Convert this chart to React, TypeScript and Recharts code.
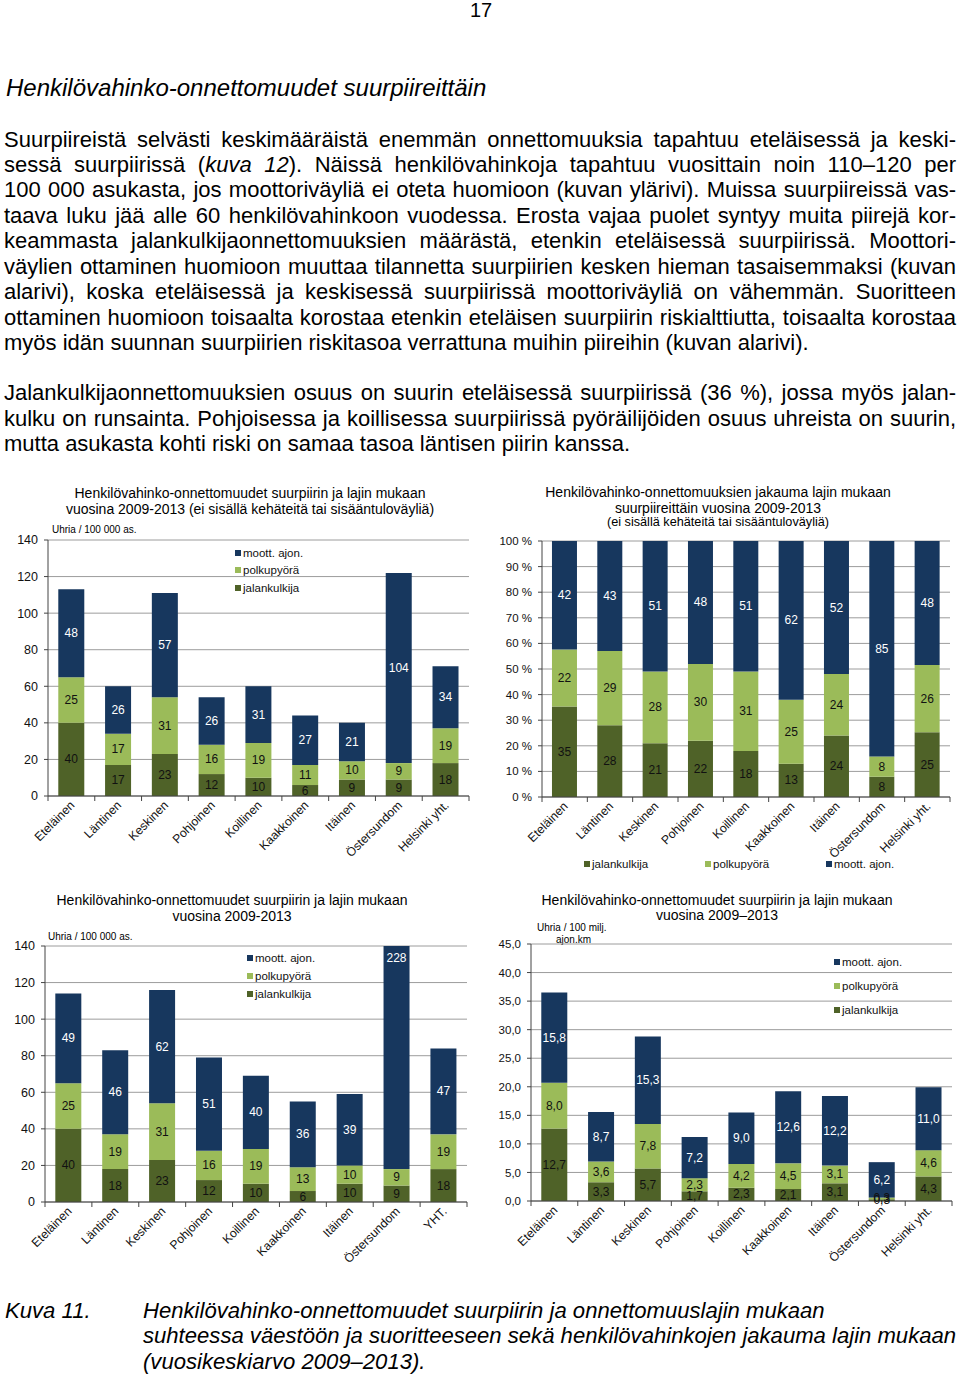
import React from 'react';
import { BarChart, Bar, XAxis, YAxis, CartesianGrid, LabelList, Legend } from 'recharts';

const FONT = '"Liberation Sans", Arial, Helvetica, sans-serif';

const CATS = ['Eteläinen', 'Läntinen', 'Keskinen', 'Pohjoinen', 'Koillinen', 'Kaakkoinen', 'Itäinen', 'Östersundom', 'Helsinki yht.'];
const CATS_YHT = ['Eteläinen', 'Läntinen', 'Keskinen', 'Pohjoinen', 'Koillinen', 'Kaakkoinen', 'Itäinen', 'Östersundom', 'YHT.'];

// per 100 000 residents, no ring roads
const A_JAL = [40, 17, 23, 12, 10, 6, 9, 9, 18];
const A_POLK = [25, 17, 31, 16, 19, 11, 10, 9, 19];
const A_MOOTT = [48, 26, 57, 26, 31, 27, 21, 104, 34];

// share by type, %
const B_JAL = [35, 28, 21, 22, 18, 13, 24, 8, 25];
const B_POLK = [22, 29, 28, 30, 31, 25, 24, 8, 26];
const B_MOOTT = [42, 43, 51, 48, 51, 62, 52, 85, 48];

// per 100 000 residents, all roads
const C_JAL = [40, 18, 23, 12, 10, 6, 10, 9, 18];
const C_POLK = [25, 19, 31, 16, 19, 13, 10, 9, 19];
const C_MOOTT = [49, 46, 62, 51, 40, 36, 39, 228, 47];

// per 100 million vehicle km
const D_JAL = [12.7, 3.3, 5.7, 1.7, 2.3, 2.1, 3.1, 0.3, 4.3];
const D_POLK = [8.0, 3.6, 7.8, 2.3, 4.2, 4.5, 3.1, 0.3, 4.6];
const D_MOOTT = [15.8, 8.7, 15.3, 7.2, 9.0, 12.6, 12.2, 6.2, 11.0];

const TICKS_A = [0, 20, 40, 60, 80, 100, 120, 140];
const TICKS_B = [0, 0.1, 0.2, 0.3, 0.4, 0.5, 0.6, 0.7, 0.8, 0.9, 1];
const TICKS_D = [0, 5, 10, 15, 20, 25, 30, 35, 40, 45];

const SERIES = [
  { key: 'jal', name: 'jalankulkija', color: '#4F6228', text: '#111111' },
  { key: 'polk', name: 'polkupyörä', color: '#9BBB59', text: '#111111' },
  { key: 'moott', name: 'moott. ajon.', color: '#17375E', text: '#ffffff' },
];

const BODY = [
  'Suurpiireistä selvästi keskimääräistä enemmän onnettomuuksia tapahtuu eteläisessä ja keski-',
  'sessä suurpiirissä (*kuva 12*). Näissä henkilövahinkoja tapahtuu vuosittain noin 110–120 per',
  '100 000 asukasta, jos moottoriväyliä ei oteta huomioon (kuvan ylärivi). Muissa suurpiireissä vas-',
  'taava luku jää alle 60 henkilövahinkoon vuodessa. Erosta vajaa puolet syntyy muita piirejä kor-',
  'keammasta jalankulkijaonnettomuuksien määrästä, etenkin eteläisessä suurpiirissä. Moottori-',
  'väylien ottaminen huomioon muuttaa tilannetta suurpiirien kesken hieman tasaisemmaksi (kuvan',
  'alarivi), koska eteläisessä ja keskisessä suurpiirissä moottoriväyliä on vähemmän. Suoritteen',
  'ottaminen huomioon toisaalta korostaa etenkin eteläisen suurpiirin riskialttiutta, toisaalta korostaa',
  'myös idän suunnan suurpiirien riskitasoa verrattuna muihin piireihin (kuvan alarivi).',
  'Jalankulkijaonnettomuuksien osuus on suurin eteläisessä suurpiirissä (36 %), jossa myös jalan-',
  'kulku on runsainta. Pohjoisessa ja koillisessa suurpiirissä pyöräilijöiden osuus uhreista on suurin,',
  'mutta asukasta kohti riski on samaa tasoa läntisen piirin kanssa.',
];
const BODY_Y = [140, 165, 190, 216, 241, 267, 292, 318, 343, 393, 419, 444];
const BODY_LAST = [8, 11];

const CAPTION = [
  'Henkilövahinko-onnettomuudet suurpiirin ja onnettomuuslajin mukaan',
  'suhteessa väestöön ja suoritteeseen sekä henkilövahinkojen jakauma lajin mukaan',
  '(vuosikeskiarvo 2009–2013).',
];

const toRows = (cats: string[], jal: number[], polk: number[], moott: number[]) =>
  cats.map((cat, i) => ({ cat, jal: jal[i], polk: polk[i], moott: moott[i] }));

const commaFmt = (v: number) => v.toFixed(1).replace('.', ',');

const AXW = 50;
const TOP = 12;
const RIGHT = 8;
const XH = 80;

function XTick(props: any) {
  const { x, y, payload, index, band, n } = props;
  const lx = x - band / 2;
  const tx = x + 4;
  const ty = y + 10;
  return (
    <g>
      <line x1={lx} x2={lx} y1={y} y2={y + 5} stroke="#444" />
      {index === n - 1 && <line x1={x + band / 2} x2={x + band / 2} y1={y} y2={y + 5} stroke="#444" />}
      <text x={tx} y={ty} textAnchor="end" transform={`rotate(-45 ${tx} ${ty})`} fontSize={12.2} fill="#111" fontFamily={FONT}>
        {payload.value}
      </text>
    </g>
  );
}

const segLabel = (color: string, fmt: (v: number) => string, clampTop: boolean) => (p: any) => {
  const vb = p.viewBox || p;
  let y = vb.y;
  let h = vb.height;
  if (h < 0) {
    y += h;
    h = -h;
  }
  let cy = y + h / 2;
  // a bar cut off at the top of the plot gets its label near the top edge
  if (clampTop && y <= TOP + 0.5) cy = TOP + 12;
  return (
    <text x={vb.x + vb.width / 2} y={cy} textAnchor="middle" dominantBaseline="central" fontSize={12} fill={color} fontFamily={FONT}>
      {fmt(Number(p.value))}
    </text>
  );
};

const legendContent = (vertical: boolean, step: number) => (p: any) => {
  const items = SERIES.map((s) => (p.payload || []).find((it: any) => it.dataKey === s.key) || { value: s.name, color: s.color, dataKey: s.key });
  if (vertical) items.reverse();
  return (
    <div style={{ display: 'flex', flexDirection: vertical ? 'column' : 'row', fontFamily: FONT, fontSize: 11.5, color: '#111' }}>
      {items.map((it: any) => (
        <div key={it.dataKey} style={{ display: 'flex', alignItems: 'center', height: vertical ? step : 14, width: vertical ? undefined : step, whiteSpace: 'nowrap' }}>
          <span style={{ display: 'inline-block', width: 6, height: 6, background: it.color, marginRight: 2 }} />
          {it.value}
        </div>
      ))}
    </div>
  );
};

type Box = { x0: number; y0: number; x1: number; y1: number };

function StackChart(props: {
  box: Box;
  rows: any[];
  domain: [number, number];
  ticks: number[];
  yFmt: (v: number) => string;
  vFmt: (v: number) => string;
  yFont: number;
  expand?: boolean;
  legendPos: { left: number; top: number };
  legendVertical: boolean;
  legendStep: number;
}) {
  const { box, rows, domain, ticks, yFmt, vFmt, yFont, expand, legendPos, legendVertical, legendStep } = props;
  const width = box.x1 - box.x0 + AXW + RIGHT;
  const height = box.y1 - box.y0 + TOP + XH;
  const band = (box.x1 - box.x0) / rows.length;
  return (
    <div style={{ position: 'absolute', left: box.x0 - AXW, top: box.y0 - TOP }}>
      <BarChart
        width={width}
        height={height}
        data={rows}
        margin={{ top: TOP, right: RIGHT, left: 0, bottom: 0 }}
        stackOffset={expand ? 'expand' : 'none'}
        barCategoryGap="22%"
      >
        <CartesianGrid vertical={false} stroke="#9c9c9c" />
        <XAxis
          dataKey="cat"
          height={XH}
          interval={0}
          tickLine={false}
          tickSize={0}
          tickMargin={0}
          axisLine={{ stroke: '#444' }}
          tick={(tp: any) => <XTick {...tp} band={band} n={rows.length} />}
        />
        <YAxis
          width={AXW}
          domain={domain}
          ticks={ticks}
          allowDataOverflow
          interval={0}
          tickFormatter={yFmt}
          tickSize={4}
          tickMargin={6}
          axisLine={{ stroke: '#444' }}
          tickLine={{ stroke: '#444' }}
          tick={{ fontSize: yFont, fill: '#111', fontFamily: FONT }}
        />
        <Legend
          layout={legendVertical ? 'vertical' : 'horizontal'}
          align="center"
          verticalAlign="middle"
          wrapperStyle={{ left: legendPos.left, top: legendPos.top, width: 'auto', height: 'auto' }}
          content={legendContent(legendVertical, legendStep)}
        />
        {SERIES.map((s) => (
          <Bar key={s.key} dataKey={s.key} name={s.name} stackId="s" fill={s.color} isAnimationActive={false}>
            <LabelList dataKey={s.key} content={segLabel(s.text, vFmt, !expand)} />
          </Bar>
        ))}
      </BarChart>
    </div>
  );
}

function Txt({ x, y, size, children, italic, center, w }: any) {
  return (
    <div
      style={{
        position: 'absolute',
        left: center ? x - 300 : x,
        top: y - size * 0.6,
        width: center ? 600 : w,
        lineHeight: `${size * 1.2}px`,
        fontSize: size,
        fontStyle: italic ? 'italic' : 'normal',
        textAlign: center ? 'center' : 'left',
        whiteSpace: 'nowrap',
        color: '#000',
      }}
    >
      {children}
    </div>
  );
}

const renderLine = (s: string) =>
  s.split('*').map((part, i) => (i % 2 === 1 ? <i key={i}>{part}</i> : <span key={i}>{part}</span>));

export default function App() {
  const rowsA = toRows(CATS, A_JAL, A_POLK, A_MOOTT);
  const rowsB = toRows(CATS, B_JAL, B_POLK, B_MOOTT);
  const rowsC = toRows(CATS_YHT, C_JAL, C_POLK, C_MOOTT);
  const rowsD = toRows(CATS, D_JAL, D_POLK, D_MOOTT);
  const intFmt = (v: number) => String(v);

  return (
    <div style={{ position: 'absolute', left: 0, top: 0, width: 960, height: 1378, background: '#fff', fontFamily: FONT, overflow: 'hidden' }}>
      <Txt x={481} y={10} size={20} center>17</Txt>
      <Txt x={6} y={88} size={24} italic>Henkilövahinko-onnettomuudet suurpiireittäin</Txt>

      {BODY.map((line, i) => (
        <div
          key={i}
          style={{
            position: 'absolute',
            left: 4,
            top: BODY_Y[i] - 13,
            width: 952,
            lineHeight: '26px',
            fontSize: 22,
            textAlign: 'justify',
            textAlignLast: BODY_LAST.includes(i) ? 'left' : 'justify',
            whiteSpace: 'nowrap',
          }}
        >
          {renderLine(line)}
        </div>
      ))}

      {/* top-left chart */}
      <Txt x={250} y={493} size={14} center>Henkilövahinko-onnettomuudet suurpiirin ja lajin mukaan</Txt>
      <Txt x={250} y={509} size={14} center>vuosina 2009-2013 (ei sisällä kehäteitä tai sisääntuloväyliä)</Txt>
      <Txt x={52} y={530} size={10}>Uhria / 100 000 as.</Txt>
      <StackChart
        box={{ x0: 48, y0: 540, x1: 469, y1: 796 }}
        rows={rowsA}
        domain={[0, 140]}
        ticks={TICKS_A}
        yFmt={intFmt}
        vFmt={intFmt}
        yFont={12.5}
        legendPos={{ left: 237, top: 16 }}
        legendVertical
        legendStep={17.5}
      />

      {/* top-right chart */}
      <Txt x={718} y={492} size={14} center>Henkilövahinko-onnettomuuksien jakauma lajin mukaan</Txt>
      <Txt x={718} y={508} size={14} center>suurpiireittäin vuosina 2009-2013</Txt>
      <Txt x={718} y={523} size={12.7} center>(ei sisällä kehäteitä tai sisääntuloväyliä)</Txt>
      <StackChart
        box={{ x0: 542, y0: 541, x1: 950, y1: 797 }}
        rows={rowsB}
        domain={[0, 1]}
        ticks={TICKS_B}
        yFmt={(v) => `${Math.round(v * 100)} %`}
        vFmt={intFmt}
        yFont={11.5}
        expand
        legendPos={{ left: 92, top: 328 }}
        legendVertical={false}
        legendStep={121}
      />

      {/* bottom-left chart */}
      <Txt x={232} y={900} size={14} center>Henkilövahinko-onnettomuudet suurpiirin ja lajin mukaan</Txt>
      <Txt x={232} y={916} size={14} center>vuosina 2009-2013</Txt>
      <Txt x={48} y={937} size={10}>Uhria / 100 000 as.</Txt>
      <StackChart
        box={{ x0: 45, y0: 946, x1: 467, y1: 1202 }}
        rows={rowsC}
        domain={[0, 140]}
        ticks={TICKS_A}
        yFmt={intFmt}
        vFmt={intFmt}
        yFont={12.5}
        legendPos={{ left: 252, top: 15 }}
        legendVertical
        legendStep={18}
      />

      {/* bottom-right chart */}
      <Txt x={717} y={900} size={14} center>Henkilövahinko-onnettomuudet suurpiirin ja lajin mukaan</Txt>
      <Txt x={717} y={915} size={14} center>vuosina 2009–2013</Txt>
      <Txt x={537} y={928} size={10}>Uhria / 100  milj.</Txt>
      <Txt x={556} y={940} size={10}>ajon.km</Txt>
      <StackChart
        box={{ x0: 531, y0: 944, x1: 952, y1: 1201 }}
        rows={rowsD}
        domain={[0, 45]}
        ticks={TICKS_D}
        yFmt={commaFmt}
        vFmt={commaFmt}
        yFont={11.5}
        legendPos={{ left: 353, top: 18 }}
        legendVertical
        legendStep={24}
      />

      <Txt x={5} y={1311} size={22.1} italic>Kuva 11.</Txt>
      {CAPTION.map((c, i) => (
        <Txt key={i} x={143} y={1311 + i * 25.5} size={22.1} italic>{c}</Txt>
      ))}
    </div>
  );
}
